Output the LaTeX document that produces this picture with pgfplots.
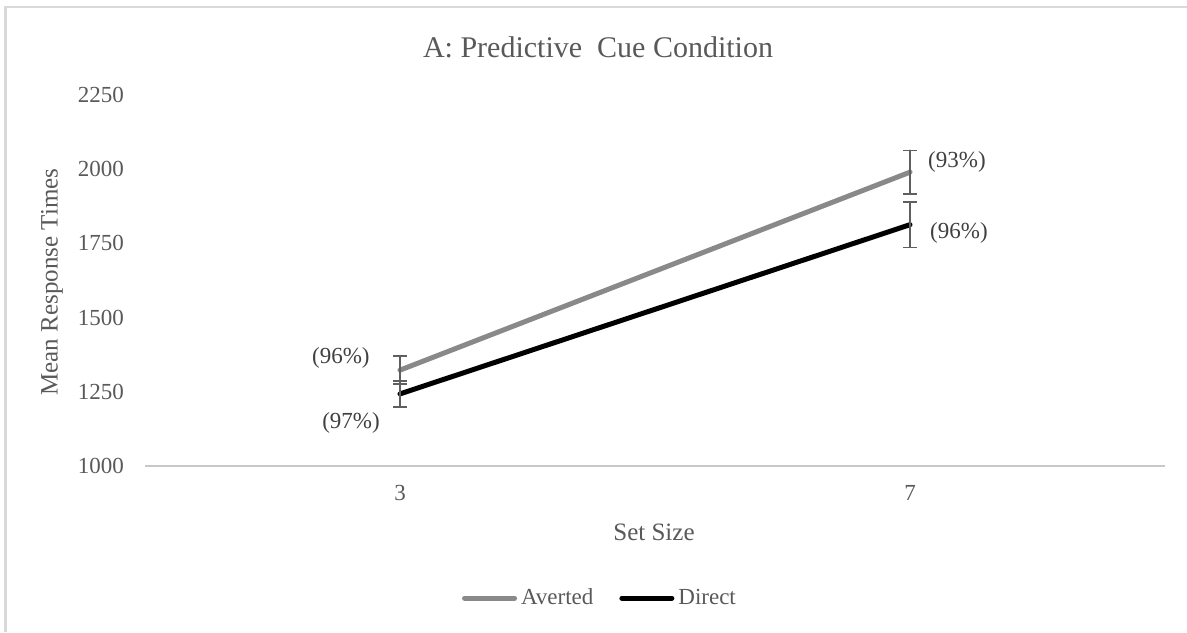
\documentclass[border=0pt]{standalone}
\usepackage{pgfplots}
\pgfplotsset{compat=1.18}
\usepackage{fontspec}
\setmainfont{Liberation Serif}

\definecolor{avertedgray}{RGB}{137,137,137}
\definecolor{textgray}{RGB}{89,89,89}
\definecolor{errgray}{RGB}{95,95,95}
\definecolor{framegray}{RGB}{217,217,217}
\definecolor{axisgray}{RGB}{200,200,200}

\begin{document}
\begin{tikzpicture}
\useasboundingbox (0,0) rectangle (593.5pt,316pt);
\draw[framegray, line width=1.2pt] (2.75pt,0) -- (2.75pt,312.5pt) -- (593.5pt,312.5pt);

\begin{axis}[
    at={(72.5pt,83pt)}, anchor=south west,
    scale only axis,
    width=510pt, height=185.5pt,
    xmin=-0.5, xmax=1.5,
    ymin=1000, ymax=2250,
    xtick={0,1}, xticklabels={3,7},
    ytick={1000,1250,1500,1750,2000,2250},
    major tick length=0pt,
    axis lines*=left,
    x axis line style={draw=axisgray, line width=0.8pt},
    y axis line style={draw=none},
    /pgf/number format/assume math mode=true,
    /pgf/number format/1000 sep={},
    tick label style={text=textgray, font=\fontsize{11.5}{13}\selectfont},
    yticklabel style={xshift=-7pt},
    xticklabel style={yshift=-6pt},
    clip=false,
    legend columns=2,
    legend style={draw=none, fill=none, at={(axis description cs:0.447,-0.356)}, anchor=center,
        font=\fontsize{11.5}{13}\selectfont, text=textgray,
        /tikz/every even column/.append style={column sep=11pt}},
    legend image code/.code={\draw[#1] (0pt,0pt) -- (25pt,0pt);},
    error bars/error bar style={errgray, line width=0.7pt},
    error bars/error mark options={rotate=90, mark size=3.5pt, line width=0.7pt, errgray},
]
\addplot[avertedgray, line width=2.5pt, line cap=round, no markers,
    error bars/.cd, y dir=both, y explicit]
    coordinates {(0,1323) +- (0,47) (1,1990) +- (0,74)};
\addlegendentry{Averted}
\addplot[black, line width=2.5pt, line cap=round, no markers,
    error bars/.cd, y dir=both, y explicit]
    coordinates {(0,1243) +- (0,44) (1,1813) +- (0,76)};
\addlegendentry{Direct}

\node[text=black!75, font=\fontsize{11.5}{13}\selectfont] at (axis cs:-0.116,1364) {(96\%)};
\node[text=black!75, font=\fontsize{11.5}{13}\selectfont] at (axis cs:-0.096,1145) {(97\%)};
\node[text=black!75, font=\fontsize{11.5}{13}\selectfont] at (axis cs:1.092,2024) {(93\%)};
\node[text=black!75, font=\fontsize{11.5}{13}\selectfont] at (axis cs:1.096,1785) {(96\%)};
\end{axis}

\node[text=textgray, font=\fontsize{15}{17}\selectfont] at (299pt,292.5pt) {A: Predictive\ \ Cue Condition};
\node[text=textgray, font=\fontsize{12.5}{14}\selectfont, rotate=90] at (26pt,175pt) {Mean Response Times};
\node[text=textgray, font=\fontsize{12.5}{14}\selectfont] at (327pt,50pt) {Set Size};
\end{tikzpicture}
\end{document}
